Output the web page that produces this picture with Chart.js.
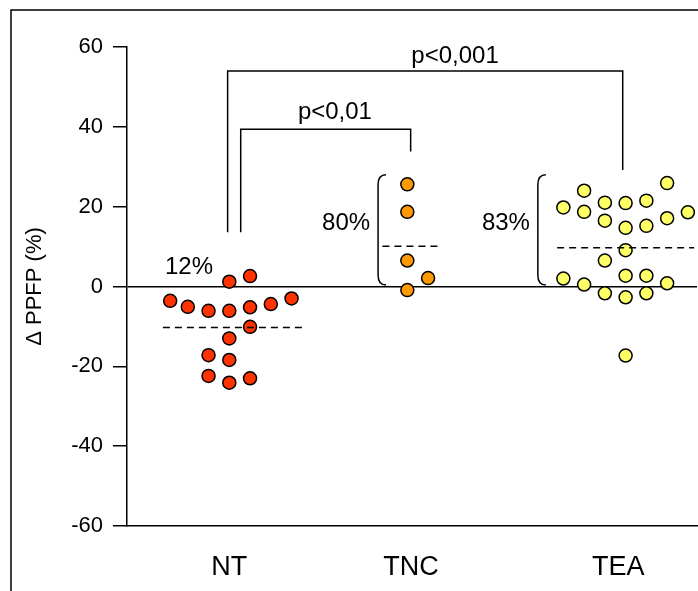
<!DOCTYPE html>
<html>
<head>
<meta charset="utf-8">
<script src="https://cdn.jsdelivr.net/npm/chart.js@4.4.0/dist/chart.umd.min.js"></script>
<style>
html, body { margin: 0; padding: 0; background: #fff; }
#wrap { width: 698px; height: 591px; position: relative; }
</style>
</head>
<body>
<div id="wrap"><canvas id="chart"></canvas></div>
<script>
const FONT = '"Liberation Sans", Arial, sans-serif';

const groups = ['NT', 'TNC', 'TEA'];
const groupX = [0, 8.58, 19.1];
const labelX = [0, 8.76, 18.75];
const yTicks = [-60, -40, -20, 0, 20, 40, 60];

// column offset (jitter) and value of each dot, per group
const ntCol = [-2.85, -2, -1, 0, 1, 2, 3, 0, 1, 1, 0, -1, 0, -1, 0, 1];
const ntVal = [-3.6, -5.1, -6.1, -6.1, -5.2, -4.4, -3.0, 1.2, 2.6, -10.1, -13.0, -17.2, -18.4, -22.4, -24.1, -23.0];
const tncCol = [0, 0, 0, 1, 0];
const tncVal = [25.6, 18.7, 6.5, 2.1, -0.9];
const teaCol = [-3, -3, -2, -2, -2, -1, -1, -1, -1, 0, 0, 0, 0, 0, 0, 1, 1, 1, 1, 2, 2, 2, 3];
const teaVal = [19.8, 2.0, 24.0, 18.7, 0.5, 21.0, 16.5, 6.5, -1.7, 20.9, 14.7, 9.1, 2.7, -2.7, -17.3, 21.5, 15.2, 2.7, -1.7, 25.9, 17.1, 0.8, 18.6];

const means = [-10.3, 10.1, 9.7];
const percents = ['12%', '80%', '83%'];
const pLabels = ['p<0,01', 'p<0,001'];

const colors = ['#ff3300', '#ff9900', '#ffff66'];

function pts(g, cols, vals) {
    return vals.map((v, i) => ({ x: groupX[g] + cols[i], y: v }));
}

// horizontal extent of each mean line, in columns around the group centre
const meanSpan = [[-3.2, 3.55], [-1.2, 1.6], [-3.3, 3.3]];

const datasets = [];
[[ntCol, ntVal], [tncCol, tncVal], [teaCol, teaVal]].forEach((d, g) => {
    datasets.push({
        type: 'scatter',
        data: pts(g, d[0], d[1]),
        backgroundColor: colors[g],
        borderColor: '#000',
        borderWidth: 1.5,
        pointRadius: 6.5,
        order: 2
    });
    datasets.push({
        type: 'line',
        data: meanSpan[g].map(o => ({ x: groupX[g] + o, y: means[g] })),
        borderColor: '#000',
        borderWidth: 1.5,
        borderDash: [7, 5],
        pointRadius: 0,
        order: 1
    });
});

const annotations = {
    id: 'annotations',
    beforeDraw(chart) {
        const ctx = chart.ctx;
        ctx.save();
        ctx.strokeStyle = '#000';
        ctx.lineWidth = 1.5;
        ctx.beginPath();
        ctx.moveTo(11, chart.height);
        ctx.lineTo(11, 10);
        ctx.lineTo(chart.width, 10);
        ctx.stroke();
        ctx.restore();
    },
    afterDatasetsDraw(chart) {
        const ctx = chart.ctx;
        const xs = chart.scales.x, ys = chart.scales.y;
        const X = (g, o) => xs.getPixelForValue(groupX[g] + o);
        const Y = v => ys.getPixelForValue(v);
        ctx.save();
        ctx.strokeStyle = '#000';
        ctx.fillStyle = '#000';
        ctx.lineWidth = 1.5;

        // significance brackets
        ctx.beginPath();
        ctx.moveTo(X(0, 0.55), Y(13.6));
        ctx.lineTo(X(0, 0.55), Y(39.4));
        ctx.lineTo(X(1, 0.16), Y(39.4));
        ctx.lineTo(X(1, 0.16), Y(33.8));
        ctx.moveTo(X(0, -0.08), Y(13.6));
        ctx.lineTo(X(0, -0.08), Y(54.0));
        ctx.lineTo(X(2, -0.14), Y(54.0));
        ctx.lineTo(X(2, -0.14), Y(29.2));
        ctx.stroke();

        // curly brackets
        [[1, -1.41], [2, -4.23]].forEach(([g, o]) => {
            const bx = X(g, o), y1 = Y(28), y2 = Y(0.4);
            ctx.beginPath();
            ctx.moveTo(bx + 8, y1);
            ctx.quadraticCurveTo(bx, y1, bx, y1 + 10);
            ctx.lineTo(bx, y2 - 10);
            ctx.quadraticCurveTo(bx, y2, bx + 8, y2);
            ctx.stroke();
        });

        ctx.font = '24px ' + FONT;
        ctx.textAlign = 'center';
        ctx.textBaseline = 'middle';
        ctx.fillText(pLabels[0], X(0, 5.09), Y(43.5));
        ctx.fillText(pLabels[1], X(0, 10.88), Y(57.6));
        ctx.fillText(percents[0], X(0, -1.94), Y(4.9));
        ctx.fillText(percents[1], X(1, -2.95), Y(15.7));
        ctx.fillText(percents[2], X(2, -5.77), Y(15.7));
        ctx.restore();
    }
};

new Chart(document.getElementById('chart'), {
    data: { datasets },
    options: {
        responsive: true,
        maintainAspectRatio: false,
        animation: false,
        layout: { autoPadding: false, padding: { top: 47, right: 1, bottom: 0, left: 0 } },
        plugins: { legend: { display: false }, tooltip: { enabled: false } },
        scales: {
            x: {
                type: 'linear',
                min: -4.93,
                max: 22.54,
                afterBuildTicks: s => { s.ticks = labelX.map(v => ({ value: v })); },
                afterFit: s => {
                    s.height = 65;
                    s.paddingLeft = 0;
                    s.paddingRight = 0;
                },
                ticks: {
                    callback: (v, i) => groups[i],
                    font: { size: 27, family: FONT },
                    color: '#000',
                    padding: 17,
                    maxRotation: 0,
                    autoSkip: false
                },
                grid: { display: false },
                border: { display: true, color: '#000', width: 1.5 }
            },
            y: {
                min: -60,
                max: 60,
                afterBuildTicks: s => { s.ticks = yTicks.map(v => ({ value: v })); },
                afterFit: s => { s.width = 127; },
                ticks: {
                    font: { size: 22, family: FONT },
                    color: '#000',
                    padding: 10
                },
                grid: {
                    color: c => (c.tick && c.tick.value === 0 ? '#000' : 'rgba(0,0,0,0)'),
                    tickColor: '#000',
                    tickLength: 14,
                    lineWidth: 1.5
                },
                border: { color: '#000', width: 1.5 },
                title: {
                    display: true,
                    text: 'Δ PPFP (%)',
                    font: { size: 22, family: FONT },
                    color: '#000',
                    padding: { top: 22, bottom: 0 }
                }
            }
        }
    },
    plugins: [annotations]
});
</script>
</body>
</html>
